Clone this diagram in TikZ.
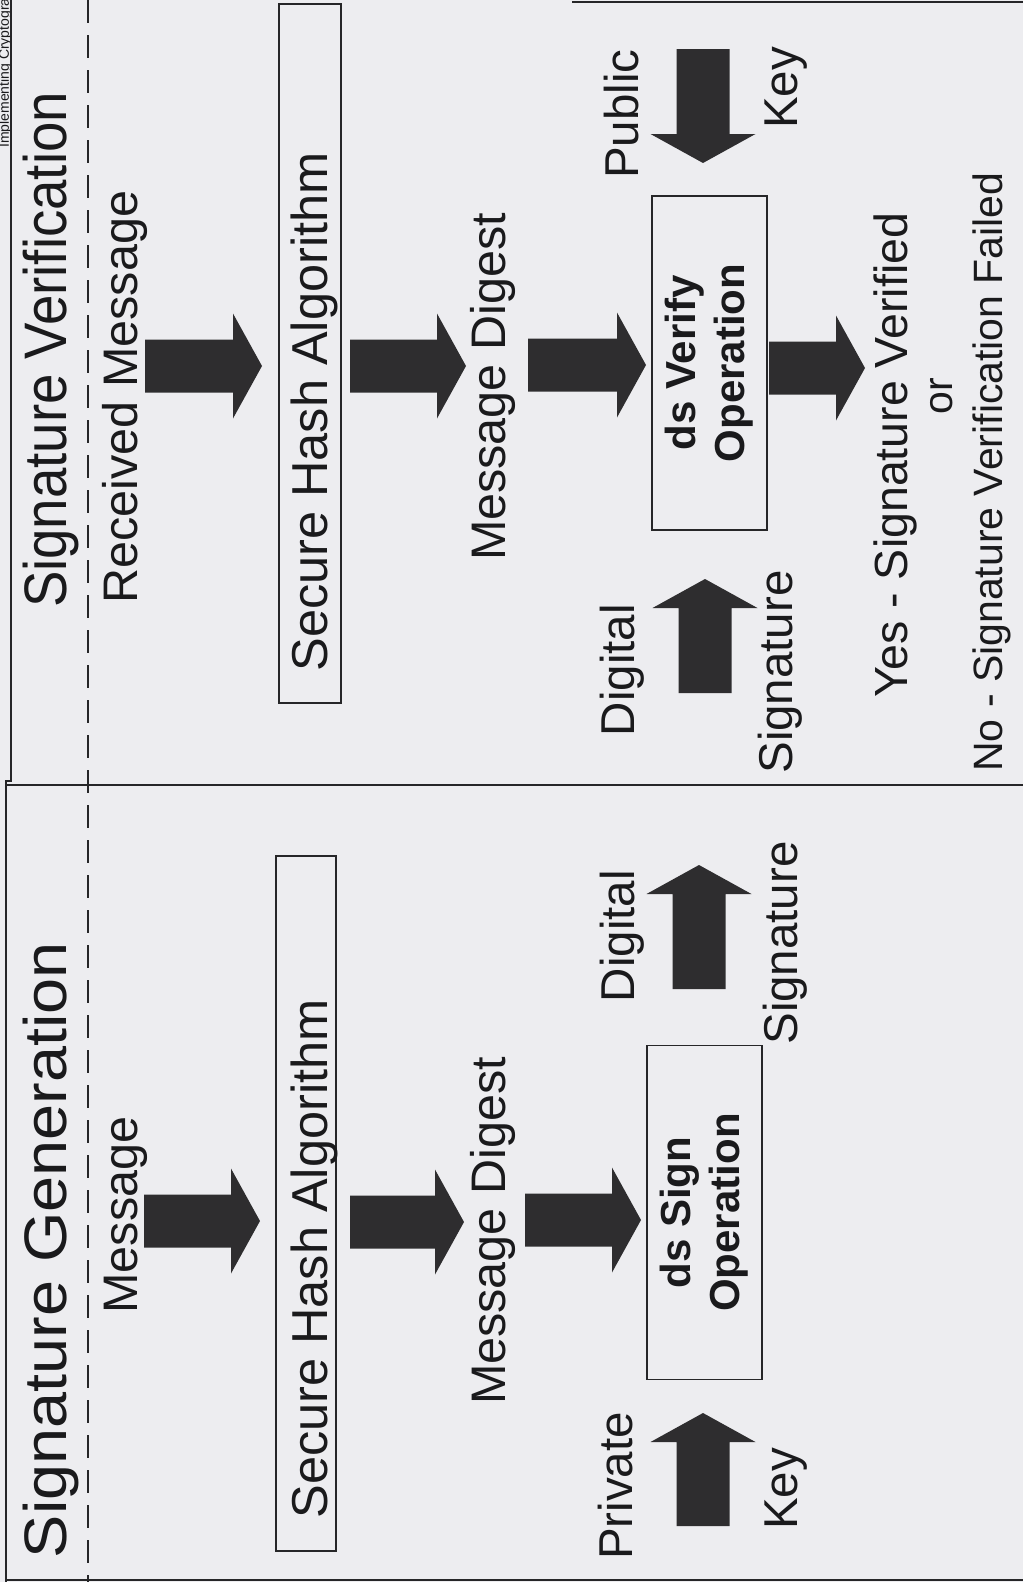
\documentclass[tikz,border=0pt]{standalone}
\usepackage{fontspec}
\setmainfont{Liberation Sans}
\usetikzlibrary{calc}

\definecolor{paper}{RGB}{237,237,240}
\definecolor{ink}{RGB}{26,26,28}
\definecolor{arrowfill}{RGB}{46,45,47}
\definecolor{rule}{RGB}{38,38,40}

\newcommand\txtsize[1]{\fontsize{#1}{#1}\selectfont}

% block arrow dimensions: shaft half width, head half width, head length
\def\sw{26.5}
\def\hw{52.5}
\def\hl{29}
% thick block arrow from a named tail coordinate to a named tip coordinate
\newcommand\blockarrow[2]{%
  \fill[arrowfill] let \p1=(#1), \p2=(#2), \n1={veclen(\x2-\x1,\y2-\y1)},
      \n2={(\x2-\x1)/\n1}, \n3={(\y2-\y1)/\n1} in
    ({\x1-\sw*\n3},{\y1+\sw*\n2})
    -- ({\x2-\hl*\n2-\sw*\n3},{\y2-\hl*\n3+\sw*\n2})
    -- ({\x2-\hl*\n2-\hw*\n3},{\y2-\hl*\n3+\hw*\n2})
    -- (\p2)
    -- ({\x2-\hl*\n2+\hw*\n3},{\y2-\hl*\n3-\hw*\n2})
    -- ({\x2-\hl*\n2+\sw*\n3},{\y2-\hl*\n3-\sw*\n2})
    -- ({\x1+\sw*\n3},{\y1-\sw*\n2}) -- cycle;}

\tikzset{
  lbl/.style={text=ink, inner sep=0pt, rotate=90, anchor=base, font=\txtsize{48.5}},
  hashtext/.style={lbl, font=\txtsize{50.5}},
  side/.style={lbl, font=\txtsize{47.5}},
  yesline/.style={lbl, font=\txtsize{46.5}},
  noline/.style={lbl, font=\txtsize{41}},
  title/.style={lbl, font=\txtsize{60}},
  hashbox/.style={draw=rule, line width=1.4pt, inner sep=0pt, rectangle},
  opbox/.style={draw=rule, line width=1.4pt, inner sep=0pt, rectangle, rotate=90,
    align=center, text=ink, font=\bfseries\fontsize{42}{49}\selectfont,
    minimum height=115, minimum width=334},
  frame/.style={draw=rule, line width=1.2pt},
  divider/.style={draw=rule, line width=2.6pt},
  guide/.style={draw=rule, line width=2.4pt, dash pattern=on 23pt off 12pt}
}

\begin{document}
\begin{tikzpicture}[x=1pt,y=-1pt]
\useasboundingbox (0,0) rectangle (1023,1582);
\clip (0,0) rectangle (1023,1582);
\fill[paper] (0,0) rectangle (1023,1582);

% running head cut by the page edge
\node[text=ink, inner sep=0pt, rotate=90, anchor=base west, font=\txtsize{14}]
  (runhead) at (9,148) {Implementing Cryptography};

% page frame and the divider between the two panels
\draw[frame] (11,0) -- (11,781) -- (6,781) -- (6,1582);
\draw[frame, line width=2pt] (572,2) -- (1023,2);
\draw[divider] (6,785) -- (1023,785);
\draw[frame, line width=2.4pt] (6,1580) -- (1023,1580);
\draw[guide] (88,0) -- (88,1582);

% ---------------- Signature Verification ----------------
\node[title] (tver) at (66,350) {\scalebox{0.91}[1]{Signature Verification}};
\node[lbl] (rmsg) at (137,397) {Received Message};
\node[hashbox, minimum width=62, minimum height=699] (hashV) at (310,353.5) {};
\node[hashtext] (hashVt) at (327,412) {Secure Hash Algorithm};
\node[lbl] (mdV) at (505,387) {Message Digest};
\node[opbox] (verify) at (709.5,363) {ds Verify\\Operation};
\node[side] (pub) at (638,114) {Public};
\node[side] (pubkey) at (797,88) {Key};
\node[side] (digV) at (634,670) {Digital};
\node[side] (sigV) at (792,672) {Signature};
\node[yesline] (yes) at (907,455) {Yes - Signature Verified};
\node[noline] (or) at (952,396) {or};
\node[noline] (no) at (1002,472) {No - Signature Verification Failed};

\coordinate (u1a) at (145,366);  \coordinate (u1b) at (262,366);
\coordinate (u2a) at (350,366);  \coordinate (u2b) at (466,366);
\coordinate (u3a) at (528,365);  \coordinate (u3b) at (646,365);
\coordinate (u4a) at (769,368);  \coordinate (u4b) at (865,368);
\coordinate (upka) at (703,49);  \coordinate (upkb) at (703,163);
\coordinate (udsa) at (705,693); \coordinate (udsb) at (705,579);
\blockarrow{u1a}{u1b}
\blockarrow{u2a}{u2b}
\blockarrow{u3a}{u3b}
\blockarrow{u4a}{u4b}
\blockarrow{upka}{upkb}
\blockarrow{udsa}{udsb}

% ---------------- Signature Generation ----------------
\node[title] (tgen) at (66,1250) {\scalebox{1.08}[1]{Signature Generation}};
\node[lbl] (msg) at (137,1215) {Message};
\node[hashbox, minimum width=60, minimum height=695] (hashG) at (306,1203.5) {};
\node[hashtext] (hashGt) at (327,1259) {Secure Hash Algorithm};
\node[lbl] (mdG) at (505,1231) {Message Digest};
\node[opbox] (sign) at (704.5,1212.5) {ds Sign\\Operation};
\node[side] (digG) at (634,936) {Digital};
\node[side] (sigG) at (797,943) {Signature};
\node[side] (priv) at (632,1486) {Private};
\node[side] (privkey) at (797,1489) {Key};

\coordinate (l1a) at (144,1221);  \coordinate (l1b) at (260,1221);
\coordinate (l2a) at (350,1222);  \coordinate (l2b) at (464,1222);
\coordinate (l3a) at (525,1220);  \coordinate (l3b) at (641,1220);
\coordinate (loa) at (699,989);   \coordinate (lob) at (699,865);
\coordinate (lpa) at (703,1526);  \coordinate (lpb) at (703,1413);
\blockarrow{l1a}{l1b}
\blockarrow{l2a}{l2b}
\blockarrow{l3a}{l3b}
\blockarrow{loa}{lob}
\blockarrow{lpa}{lpb}
\end{tikzpicture}
\end{document}
